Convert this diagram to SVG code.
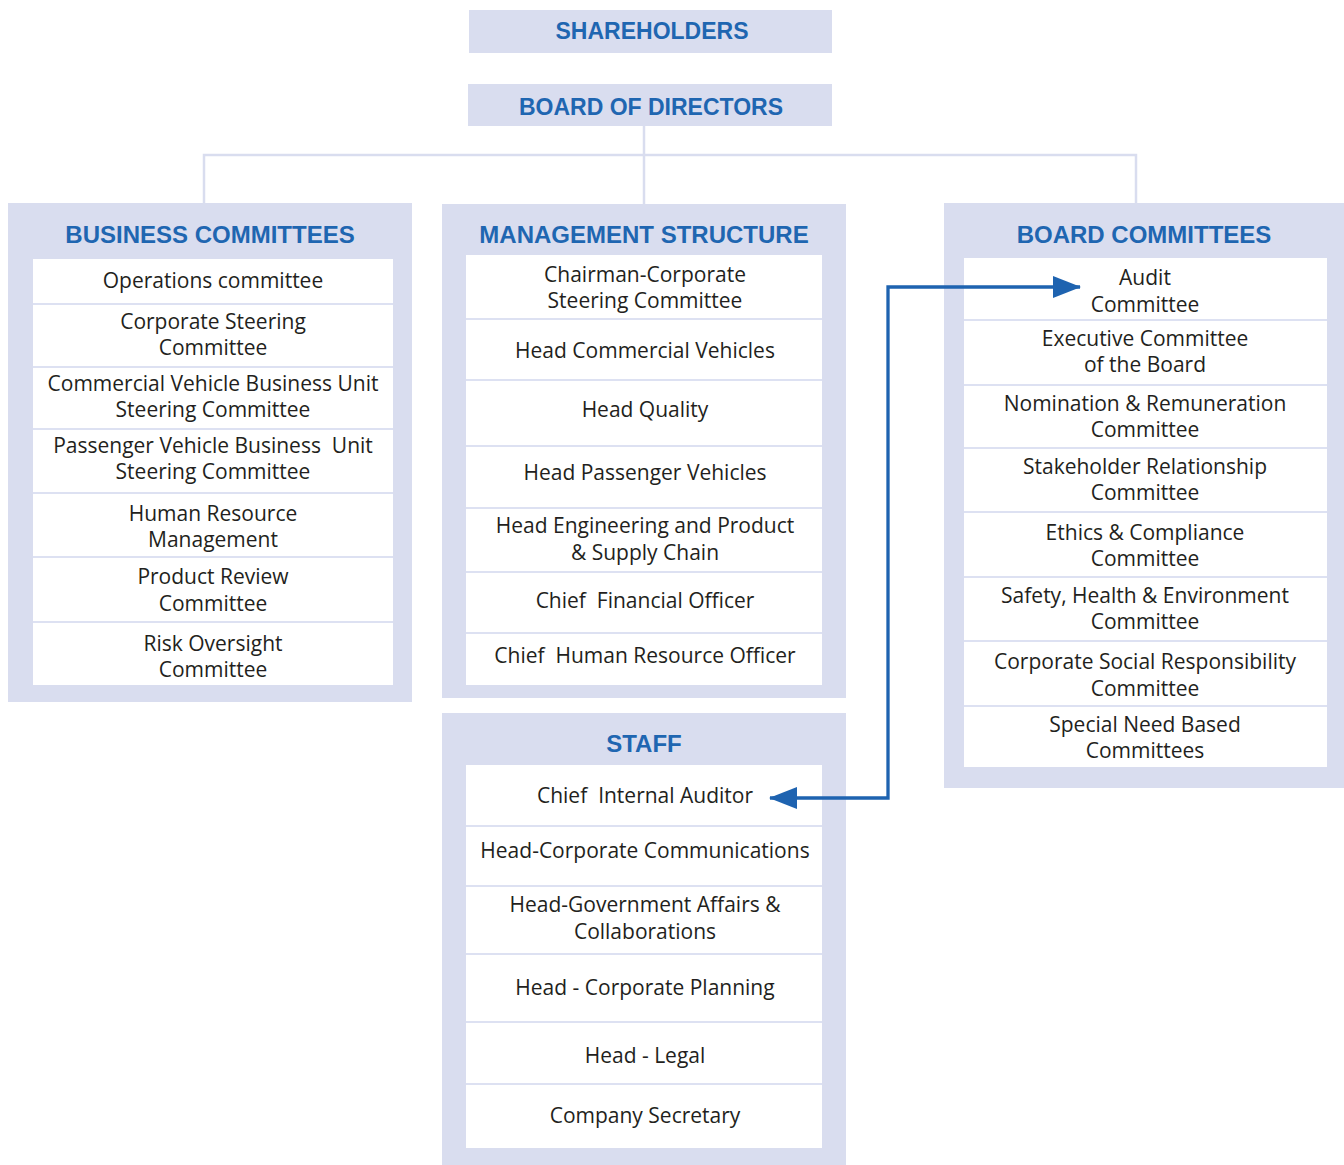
<svg xmlns="http://www.w3.org/2000/svg" width="1344" height="1165" viewBox="0 0 1344 1165">
<defs>
<style>
.bg{fill:#d9ddef}
.in{fill:#ffffff}
.sep{fill:#dde1f2}
.hd{font-family:"Liberation Sans",Arial,sans-serif;font-weight:bold;font-size:24px;fill:#1f66b1;text-anchor:middle}
.tp{font-size:23px}
.t{font-family:"Open Sans","Liberation Sans",sans-serif;font-size:21px;fill:#231f20;text-anchor:middle}
.conn{fill:none;stroke:#d9ddef;stroke-width:2.5}
.arr{fill:none;stroke:#1e63b0;stroke-width:3.3}
</style>
<marker id="ah" viewBox="0 0 28 22" refX="27" refY="11" markerWidth="28" markerHeight="22" markerUnits="userSpaceOnUse" orient="auto-start-reverse">
<path d="M0,0 L28,11 L0,22 Z" fill="#1e63b0"/>
</marker>
</defs>
<rect width="1344" height="1165" fill="#ffffff"/>

<g id="shareholders">
<rect class="bg" x="469" y="10" width="363" height="43"/>
<text class="hd tp" x="652" y="39">SHAREHOLDERS</text>
</g>

<g id="board-of-directors">
<rect class="bg" x="468" y="84" width="364" height="42"/>
<text class="hd tp" x="651" y="115">BOARD OF DIRECTORS</text>
</g>

<g id="business-committees">
<rect class="bg" x="8" y="203" width="404" height="499"/>
<text class="hd" x="210" y="243">BUSINESS COMMITTEES</text>
<rect class="in" x="33" y="259" width="360" height="426"/>
<rect class="sep" x="33" y="303" width="360" height="2"/>
<rect class="sep" x="33" y="366" width="360" height="2"/>
<rect class="sep" x="33" y="428" width="360" height="2"/>
<rect class="sep" x="33" y="492" width="360" height="2"/>
<rect class="sep" x="33" y="556" width="360" height="2"/>
<rect class="sep" x="33" y="621" width="360" height="2"/>
<text class="t" x="213" y="288">Operations committee</text>
<text class="t" x="213" y="329">Corporate Steering</text>
<text class="t" x="213" y="355">Committee</text>
<text class="t" x="213" y="391">Commercial Vehicle Business Unit</text>
<text class="t" x="213" y="417">Steering Committee</text>
<text class="t" x="213" y="453" xml:space="preserve">Passenger Vehicle Business  Unit</text>
<text class="t" x="213" y="479">Steering Committee</text>
<text class="t" x="213" y="521">Human Resource</text>
<text class="t" x="213" y="547">Management</text>
<text class="t" x="213" y="584">Product Review</text>
<text class="t" x="213" y="611">Committee</text>
<text class="t" x="213" y="651">Risk Oversight</text>
<text class="t" x="213" y="677">Committee</text>
</g>

<g id="management-structure">
<rect class="bg" x="442" y="204" width="404" height="494"/>
<text class="hd" x="644" y="243">MANAGEMENT STRUCTURE</text>
<rect class="in" x="466" y="255" width="356" height="430"/>
<rect class="sep" x="466" y="318" width="356" height="2"/>
<rect class="sep" x="466" y="379" width="356" height="2"/>
<rect class="sep" x="466" y="445" width="356" height="2"/>
<rect class="sep" x="466" y="507" width="356" height="2"/>
<rect class="sep" x="466" y="571" width="356" height="2"/>
<rect class="sep" x="466" y="632" width="356" height="2"/>
<text class="t" x="645" y="282">Chairman-Corporate</text>
<text class="t" x="645" y="308">Steering Committee</text>
<text class="t" x="645" y="358">Head Commercial Vehicles</text>
<text class="t" x="645" y="417">Head Quality</text>
<text class="t" x="645" y="480">Head Passenger Vehicles</text>
<text class="t" x="645" y="533">Head Engineering and Product</text>
<text class="t" x="645" y="560">&amp; Supply Chain</text>
<text class="t" x="645" y="608" xml:space="preserve">Chief  Financial Officer</text>
<text class="t" x="645" y="663" xml:space="preserve">Chief  Human Resource Officer</text>
</g>

<g id="staff">
<rect class="bg" x="442" y="713" width="404" height="452"/>
<text class="hd" x="644" y="752">STAFF</text>
<rect class="in" x="466" y="765" width="356" height="383"/>
<rect class="sep" x="466" y="825" width="356" height="2"/>
<rect class="sep" x="466" y="885" width="356" height="2"/>
<rect class="sep" x="466" y="953" width="356" height="2"/>
<rect class="sep" x="466" y="1021" width="356" height="2"/>
<rect class="sep" x="466" y="1083" width="356" height="2"/>
<text class="t" x="645" y="803" xml:space="preserve">Chief  Internal Auditor</text>
<text class="t" x="645" y="858">Head-Corporate Communications</text>
<text class="t" x="645" y="912">Head-Government Affairs &amp;</text>
<text class="t" x="645" y="939">Collaborations</text>
<text class="t" x="645" y="995">Head - Corporate Planning</text>
<text class="t" x="645" y="1063">Head - Legal</text>
<text class="t" x="645" y="1123">Company Secretary</text>
</g>

<g id="board-committees">
<rect class="bg" x="944" y="203" width="400" height="585"/>
<text class="hd" x="1144" y="243">BOARD COMMITTEES</text>
<rect class="in" x="964" y="258" width="363" height="509"/>
<rect class="sep" x="964" y="319" width="363" height="2"/>
<rect class="sep" x="964" y="384" width="363" height="2"/>
<rect class="sep" x="964" y="447" width="363" height="2"/>
<rect class="sep" x="964" y="511" width="363" height="2"/>
<rect class="sep" x="964" y="576" width="363" height="2"/>
<rect class="sep" x="964" y="640" width="363" height="2"/>
<rect class="sep" x="964" y="705" width="363" height="2"/>
<text class="t" x="1145" y="285">Audit</text>
<text class="t" x="1145" y="312">Committee</text>
<text class="t" x="1145" y="346">Executive Committee</text>
<text class="t" x="1145" y="372">of the Board</text>
<text class="t" x="1145" y="411">Nomination &amp; Remuneration</text>
<text class="t" x="1145" y="437">Committee</text>
<text class="t" x="1145" y="474">Stakeholder Relationship</text>
<text class="t" x="1145" y="500">Committee</text>
<text class="t" x="1145" y="540">Ethics &amp; Compliance</text>
<text class="t" x="1145" y="566">Committee</text>
<text class="t" x="1145" y="603">Safety, Health &amp; Environment</text>
<text class="t" x="1145" y="629">Committee</text>
<text class="t" x="1145" y="669">Corporate Social Responsibility</text>
<text class="t" x="1145" y="696">Committee</text>
<text class="t" x="1145" y="732">Special Need Based</text>
<text class="t" x="1145" y="758">Committees</text>
</g>

<g id="connectors">
<path class="conn" d="M644,126 V204"/>
<path class="conn" d="M204,203 V155 H1136 V203"/>
<path class="arr" d="M770,798 H888 V287 H1080" marker-start="url(#ah)" marker-end="url(#ah)"/>
</g>
</svg>
